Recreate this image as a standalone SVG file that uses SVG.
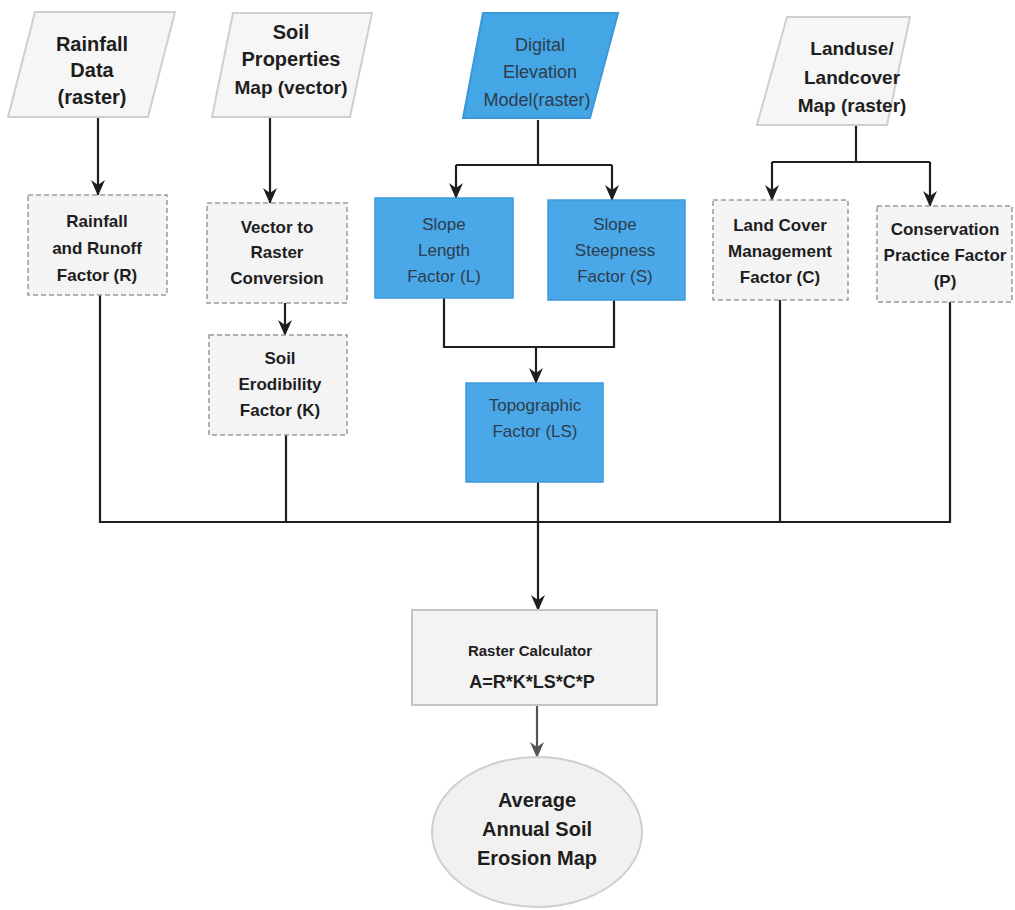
<svg xmlns="http://www.w3.org/2000/svg" width="1015" height="910" viewBox="0 0 1015 910">
<style>
.t{font-family:"Liberation Sans",Arial,sans-serif;font-weight:bold;fill:#1e1e1e;text-anchor:middle}
.tb{font-family:"Liberation Sans",Arial,sans-serif;fill:#2e3c4c;text-anchor:middle}
.para{fill:#f6f6f6;stroke:#cfcfcf;stroke-width:2}
.parab{fill:#45a6e6;stroke:#3a97d8;stroke-width:2}
.box{fill:#f4f4f4;stroke:#9a9a9a;stroke-width:1.5;stroke-dasharray:5 3}
.boxb{fill:#4aa8e8;stroke:#3d9ad8;stroke-width:1.5}
.calc{fill:#f3f3f3;stroke:#c4c4c4;stroke-width:2}
.ell{fill:#f1f1f1;stroke:#cfcfcf;stroke-width:2}
.c{fill:none;stroke:#1e1e1e;stroke-width:2.2}
.cg{fill:none;stroke:#555;stroke-width:2.2}
</style>
<defs>
<marker id="ah" viewBox="0 0 16 16" refX="15" refY="8" markerWidth="16" markerHeight="16" markerUnits="userSpaceOnUse" orient="auto">
<path d="M0,1 L16,8 L0,15 L5,8 z" fill="#1e1e1e"/>
</marker>
<marker id="ahg" viewBox="0 0 16 16" refX="15" refY="8" markerWidth="16" markerHeight="16" markerUnits="userSpaceOnUse" orient="auto">
<path d="M0,1 L16,8 L0,15 L5,8 z" fill="#555"/>
</marker>
</defs>
<rect width="1015" height="910" fill="#ffffff"/>

<g id="connectors">
<path class="c" d="M98,118 V195" marker-end="url(#ah)"/>
<path class="c" d="M270,118 V203" marker-end="url(#ah)"/>
<path class="c" d="M538,120 V165"/>
<path class="c" d="M456,165 H612"/>
<path class="c" d="M456,165 V198" marker-end="url(#ah)"/>
<path class="c" d="M612,165 V200" marker-end="url(#ah)"/>
<path class="c" d="M856,125 V162"/>
<path class="c" d="M772,162 H930"/>
<path class="c" d="M772,162 V200" marker-end="url(#ah)"/>
<path class="c" d="M930,162 V206" marker-end="url(#ah)"/>
<path class="c" d="M285,303 V335" marker-end="url(#ah)"/>
<path class="c" d="M444,298 V347 H614 V300"/>
<path class="c" d="M536,347 V383" marker-end="url(#ah)"/>
<path class="c" d="M100,295 V522 H950 V302"/>
<path class="c" d="M286,435 V522"/>
<path class="c" d="M780,300 V522"/>
<path class="c" d="M538,482 V610" marker-end="url(#ah)"/>
<path class="cg" d="M537,705 V757" marker-end="url(#ahg)"/>
</g>

<g id="rainfall-data">
<polygon class="para" points="35,12 175,12 148,117 8,117"/>
<text class="t" font-size="20" x="92" y="51">Rainfall</text>
<text class="t" font-size="20" x="92" y="77">Data</text>
<text class="t" font-size="20" x="92" y="104">(raster)</text>
</g>

<g id="soil-properties">
<polygon class="para" points="233,13 372,13 350,117 212,117"/>
<text class="t" font-size="20" x="291" y="39">Soil</text>
<text class="t" font-size="20" x="291" y="66">Properties</text>
<text class="t" font-size="19" x="291" y="94">Map (vector)</text>
</g>

<g id="dem">
<polygon class="parab" points="483,13 618,13 590,118 463,118"/>
<text class="tb" font-size="18" x="540" y="51">Digital</text>
<text class="tb" font-size="18" x="540" y="78">Elevation</text>
<text class="tb" font-size="18" x="537" y="106">Model(raster)</text>
</g>

<g id="landuse">
<polygon class="para" points="787,17 910,17 887,125 757,125"/>
<text class="t" font-size="19" x="852" y="55">Landuse/</text>
<text class="t" font-size="19" x="852" y="84">Landcover</text>
<text class="t" font-size="19" x="852" y="112">Map (raster)</text>
</g>

<g id="factor-r">
<rect class="box" x="28" y="195" width="139" height="100"/>
<text class="t" font-size="17" x="97" y="227">Rainfall</text>
<text class="t" font-size="17" x="97" y="254">and Runoff</text>
<text class="t" font-size="17" x="97" y="281">Factor (R)</text>
</g>

<g id="vector-raster">
<rect class="box" x="207" y="203" width="140" height="100"/>
<text class="t" font-size="17" x="277" y="233">Vector to</text>
<text class="t" font-size="17" x="277" y="258">Raster</text>
<text class="t" font-size="17" x="277" y="284">Conversion</text>
</g>

<g id="factor-k">
<rect class="box" x="209" y="335" width="138" height="100"/>
<text class="t" font-size="17" x="280" y="364">Soil</text>
<text class="t" font-size="17" x="280" y="390">Erodibility</text>
<text class="t" font-size="17" x="280" y="416">Factor (K)</text>
</g>

<g id="factor-l">
<rect class="boxb" x="375" y="198" width="138" height="100"/>
<text class="tb" font-size="17" x="444" y="230">Slope</text>
<text class="tb" font-size="17" x="444" y="256">Length</text>
<text class="tb" font-size="17" x="444" y="282">Factor (L)</text>
</g>

<g id="factor-s">
<rect class="boxb" x="548" y="200" width="137" height="100"/>
<text class="tb" font-size="17" x="615" y="230">Slope</text>
<text class="tb" font-size="17" x="615" y="256">Steepness</text>
<text class="tb" font-size="17" x="615" y="282">Factor (S)</text>
</g>

<g id="factor-ls">
<rect class="boxb" x="466" y="383" width="137" height="99"/>
<text class="tb" font-size="17" x="535" y="411">Topographic</text>
<text class="tb" font-size="17" x="535" y="437">Factor (LS)</text>
</g>

<g id="factor-c">
<rect class="box" x="713" y="200" width="135" height="100"/>
<text class="t" font-size="17" x="780" y="231">Land Cover</text>
<text class="t" font-size="17" x="780" y="257">Management</text>
<text class="t" font-size="17" x="780" y="283">Factor (C)</text>
</g>

<g id="factor-p">
<rect class="box" x="877" y="206" width="135" height="96"/>
<text class="t" font-size="17" x="945" y="235">Conservation</text>
<text class="t" font-size="17" x="945" y="261">Practice Factor</text>
<text class="t" font-size="17" x="945" y="287">(P)</text>
</g>

<g id="raster-calculator">
<rect class="calc" x="412" y="610" width="245" height="95"/>
<text class="t" font-size="15" x="530" y="656">Raster Calculator</text>
<text class="t" font-size="18" x="532" y="688">A=R*K*LS*C*P</text>
</g>

<g id="erosion-map">
<ellipse class="ell" cx="537" cy="832" rx="105" ry="75"/>
<text class="t" font-size="20" x="537" y="807">Average</text>
<text class="t" font-size="20" x="537" y="836">Annual Soil</text>
<text class="t" font-size="20" x="537" y="865">Erosion Map</text>
</g>
</svg>
